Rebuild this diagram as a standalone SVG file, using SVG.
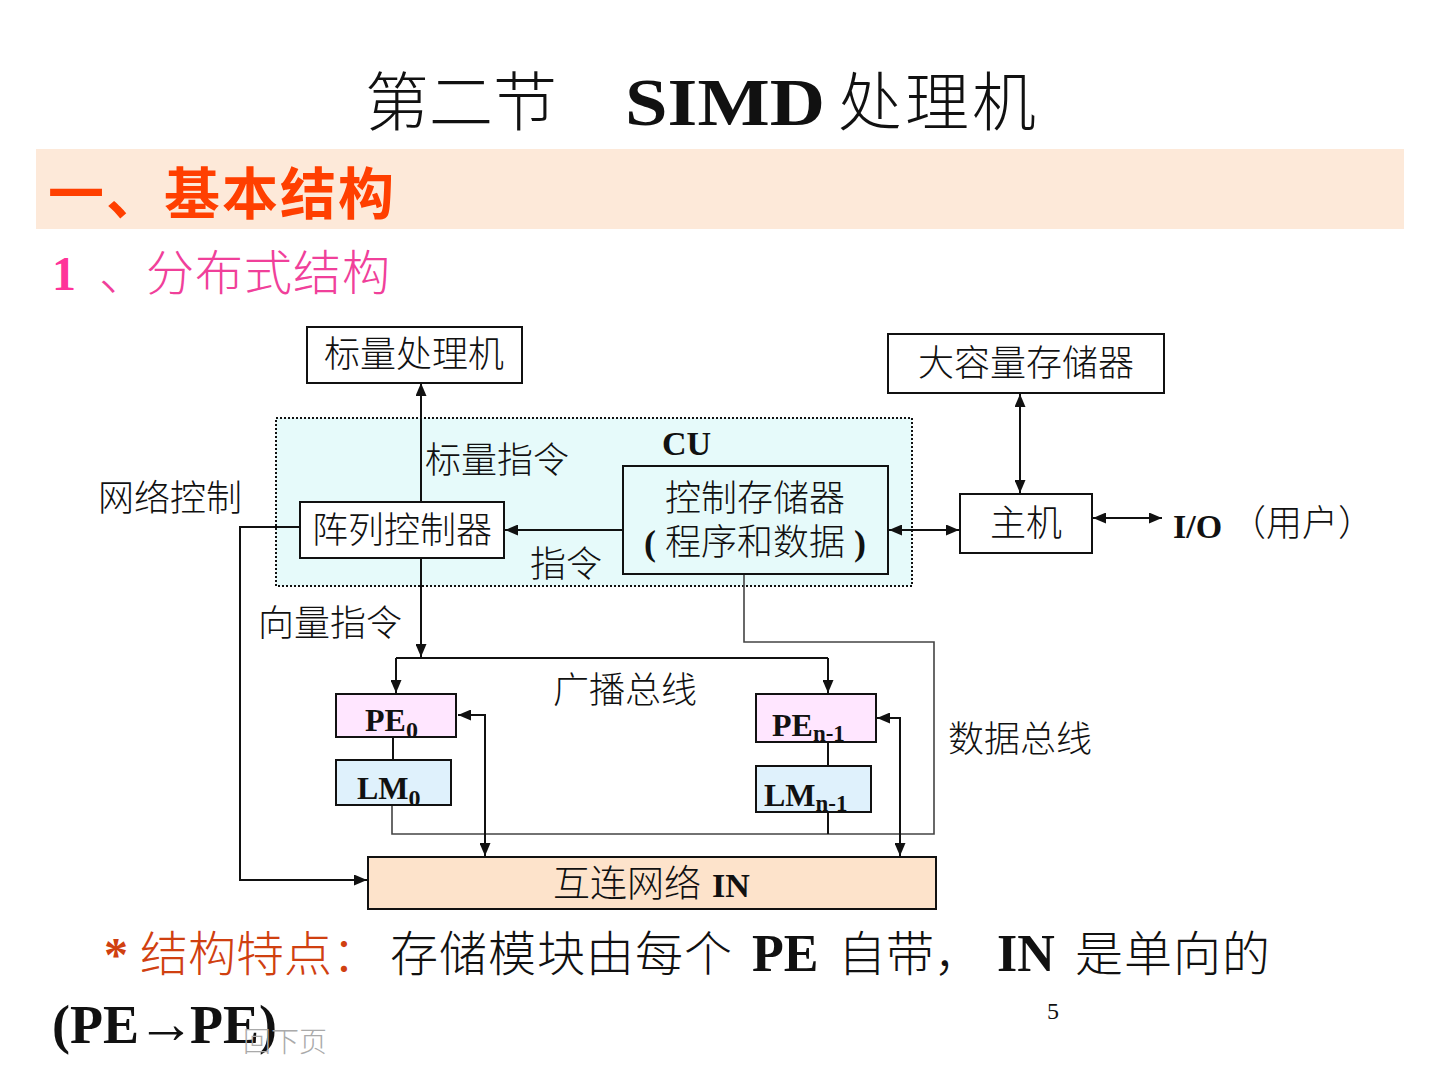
<svg xmlns="http://www.w3.org/2000/svg" width="1440" height="1080" viewBox="0 0 1440 1080">
<style>
text{font-family:"Liberation Serif","Noto Sans CJK SC",serif;fill:#111;font-weight:300}
.lbl{font-size:36px}
.b{font-weight:bold}
.box{fill:#fff;stroke:#111;stroke-width:2}
.ln{fill:none;stroke:#111;stroke-width:2}
.gl{fill:none;stroke:#444;stroke-width:1.6}
.pe{font-size:32px;font-weight:bold}
.sub{font-size:24px}
.sub2{font-size:23px}
</style>
<defs>
<marker id="ah" viewBox="0 0 13 11" refX="13" refY="5.5" markerWidth="13" markerHeight="11" markerUnits="userSpaceOnUse" orient="auto-start-reverse"><path d="M0,0L13,5.5L0,11z" fill="#111"/></marker>
</defs>
<rect width="1440" height="1080" fill="#fff"/>
<g id="title">
<text x="365" y="125" style="font-size:64px">第二节</text>
<text x="625" y="125" class="b" style="font-size:68px" textLength="200" lengthAdjust="spacingAndGlyphs">SIMD</text>
<text x="838" y="125" style="font-size:64px;letter-spacing:3px">处理机</text>
</g>
<g id="header">
<rect x="36" y="149" width="1368" height="80" fill="#FDE9D9"/>
<text x="48" y="214" class="b" style="font-size:56px;fill:#FF3F00;letter-spacing:2px">一、基本结构</text>
<text x="52" y="290" class="b" style="font-size:48px;fill:#FF3399">1</text>
<text x="99" y="290" style="font-size:48px;fill:#F0409A">、</text>
<text x="146" y="290" style="font-size:48px;fill:#F0409A;letter-spacing:1px">分布式结构</text>
</g>
<g id="cu">
<rect x="276" y="418" width="636" height="168" fill="#E6FAFA" stroke="#111" stroke-width="2" stroke-dasharray="2,2"/>
<text x="662" y="455" class="b" style="font-size:34px">CU</text>
</g>
<g id="connectors">
<path class="ln" d="M421,502V383" marker-end="url(#ah)"/>
<path class="ln" d="M623,530H505" marker-end="url(#ah)"/>
<path class="ln" d="M421,558V657"/>
<path class="ln" d="M421,645V657" marker-end="url(#ah)"/>
<path class="ln" d="M396,658H828"/>
<path class="ln" d="M396,658V693" marker-end="url(#ah)"/>
<path class="ln" d="M828,658V693" marker-end="url(#ah)"/>
<path class="ln" d="M393,737V759"/>
<path class="ln" d="M828,742V766"/>
<path class="gl" d="M744,574V642H934V834H392V805"/>
<path class="ln" d="M828,812V834"/>
<path class="ln" d="M458,715H485V856" marker-start="url(#ah)" marker-end="url(#ah)"/>
<path class="ln" d="M877,718H900V856" marker-start="url(#ah)" marker-end="url(#ah)"/>
<path class="ln" d="M300,527H240V880H367" marker-end="url(#ah)"/>
<path class="ln" d="M889,530H959" marker-start="url(#ah)" marker-end="url(#ah)"/>
<path class="ln" d="M1020,394V493" marker-start="url(#ah)" marker-end="url(#ah)"/>
<path class="ln" d="M1093,518H1162" marker-start="url(#ah)" marker-end="url(#ah)"/>
</g>
<g id="labels">
<text x="425" y="473" class="lbl">标量指令</text>
<text x="530" y="577" class="lbl">指令</text>
<text x="98" y="511" class="lbl">网络控制</text>
<text x="258" y="636" class="lbl">向量指令</text>
<text x="553" y="703" class="lbl">广播总线</text>
<text x="948" y="752" class="lbl">数据总线</text>
<text x="1173" y="538" class="b" style="font-size:34px">I/O</text>
<text x="1230" y="536" class="lbl">（用户）</text>
</g>
<g id="scalar">
<rect class="box" x="307" y="327" width="215" height="56"/>
<text x="414" y="367" class="lbl" text-anchor="middle">标量处理机</text>
</g>
<g id="mass">
<rect class="box" x="888" y="334" width="276" height="59"/>
<text x="1026" y="376" class="lbl" text-anchor="middle">大容量存储器</text>
</g>
<g id="array">
<rect class="box" x="300" y="502" width="204" height="56"/>
<text x="402" y="543" class="lbl" text-anchor="middle">阵列控制器</text>
</g>
<g id="cmem">
<rect class="box" x="623" y="466" width="265" height="108" style="fill:#E6FAFA"/>
<text x="755" y="511" class="lbl" text-anchor="middle">控制存储器</text>
<text x="755" y="555" class="lbl" text-anchor="middle"><tspan class="b">(</tspan> 程序和数据 <tspan class="b">)</tspan></text>
</g>
<g id="host">
<rect class="box" x="960" y="494" width="132" height="59"/>
<text x="1026" y="536" class="lbl" text-anchor="middle">主机</text>
</g>
<g id="pe0">
<rect class="box" x="336" y="694" width="120" height="43" style="fill:#FFE6FF"/>
<text x="365" y="731" class="pe">PE<tspan dy="7" class="sub">0</tspan></text>
</g>
<g id="lm0">
<rect class="box" x="336" y="760" width="115" height="45" style="fill:#DFF1FC"/>
<text x="357" y="799" class="pe">LM<tspan dy="7" class="sub">0</tspan></text>
</g>
<g id="pen1">
<rect class="box" x="756" y="694" width="120" height="48" style="fill:#FFE6FF"/>
<text x="772" y="736" class="pe">PE<tspan dy="5" class="sub2">n-1</tspan></text>
</g>
<g id="lmn1">
<rect class="box" x="756" y="766" width="115" height="46" style="fill:#DFF1FC"/>
<text x="764" y="806" class="pe">LM<tspan dy="5" class="sub2">n-1</tspan></text>
</g>
<g id="in">
<rect class="box" x="368" y="857" width="568" height="52" style="fill:#FDE3CB"/>
<text x="553" y="897" style="font-size:37px">互连网络</text>
<text x="712" y="897" class="b" style="font-size:34px">IN</text>
</g>
<g id="footer">
<text x="104" y="971" class="b" style="font-size:48px;fill:#D04010">*</text>
<text x="140" y="971" style="font-size:48px;fill:#D04010">结构特点：</text>
<text x="390" y="971" style="font-size:48px;letter-spacing:1px">存储模块由每个</text>
<text x="752" y="971" class="b" style="font-size:52px">PE</text>
<text x="838" y="971" style="font-size:48px">自带，</text>
<text x="997" y="971" class="b" style="font-size:52px">IN</text>
<text x="1075" y="971" style="font-size:48px;letter-spacing:1px">是单向的</text>
<text x="52" y="1043" class="b" style="font-size:54px">(PE<tspan x="137" style="font-size:58px">→</tspan><tspan x="190">PE)</tspan></text>
<text x="1047" y="1019" style="font-size:24px">5</text>
<text x="243" y="1052" style="font-size:28px;fill:#aaa">回下页</text>
</g>
</svg>
